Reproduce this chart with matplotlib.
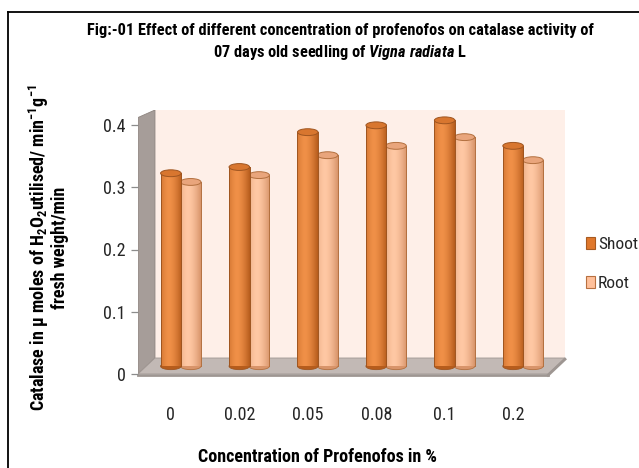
import numpy as np
import matplotlib
matplotlib.use("Agg")
import matplotlib.pyplot as plt
from matplotlib import font_manager
from matplotlib.patches import Polygon, Rectangle, Ellipse
from matplotlib.colors import to_rgb

# ---- data ----
categories = ["0", "0.02", "0.05", "0.08", "0.1", "0.2"]
shoot = [0.31, 0.32, 0.376, 0.387, 0.395, 0.354]
root = [0.296, 0.307, 0.339, 0.354, 0.368, 0.331]
series_names = ["Shoot", "Root"]
yticks = [0, 0.1, 0.2, 0.3, 0.4]
ytick_labels = ["0", "0.1", "0.2", "0.3", "0.4"]
title_line1 = "Fig:-01 Effect of different concentration of profenofos on catalase activity of"
title_line2 = r"07 days old seedling of $\mathit{Vigna\ radiata}$ L"
ylabel = r"Catalase in µ moles of H$_2$O$_2$utilised/ min$^{-1}$g$^{-1}$" + "\nfresh weight/min"
xlabel = "Concentration of Profenofos in %"

# ---- fonts ----
avail = {f.name for f in font_manager.fontManager.ttflist}
fam = "DejaVu Sans"
for cand in ["Liberation Sans Narrow", "Roboto Condensed", "Lato", "Open Sans"]:
    if cand in avail:
        fam = cand
        break
plt.rcParams["font.family"] = [fam, "DejaVu Sans"]
plt.rcParams["mathtext.fontset"] = "custom"
plt.rcParams["mathtext.rm"] = f"{fam}:bold"
plt.rcParams["mathtext.it"] = f"{fam}:italic:bold"
plt.rcParams["mathtext.bf"] = f"{fam}:bold"

W, H = 639, 468
fig = plt.figure(figsize=(W / 100, H / 100), dpi=100)

# outer border (top and left)
fig.add_artist(plt.Line2D([8 / W, 1], [1 - 12 / H, 1 - 12 / H], color="black", lw=1.3))
fig.add_artist(plt.Line2D([8 / W, 8 / W], [0, 1 - 12 / H], color="black", lw=1.3))

# axes geometry (pixels)
px_left, px_right, px_bottom, px_top = 138, 565, 374, 110
ax = fig.add_axes([px_left / W, (H - px_bottom) / H, (px_right - px_left) / W, (px_bottom - px_top) / H])
xpu = 68.45
ypu = 622.5
x0 = -0.48
x1 = x0 + (px_right - px_left) / xpu
ytop = (px_bottom - px_top) / ypu
ax.set_xlim(x0, x1)
ax.set_ylim(0, ytop)
for s in ax.spines.values():
    s.set_visible(False)

dx = 0.248
dy = 0.0257
xfr = 5.51

# back wall
ax.add_patch(Polygon([(x0 + dx, dy), (x1, dy), (x1, ytop), (x0 + dx, ytop)],
                     closed=True, facecolor="#FEEFE8", edgecolor="none", zorder=0))
# left wall
ax.add_patch(Polygon([(x0, 0), (x0, 0.412), (x0 + dx, ytop), (x0 + dx, dy)],
                     closed=True, facecolor="#A69D99", edgecolor="#8E8580", lw=0.6, zorder=1))
# floor
ax.add_patch(Polygon([(x0, 0), (xfr, 0), (x1, dy), (x0 + dx, dy)],
                     closed=True, facecolor="#C2B9B5", edgecolor="#A09793", lw=0.6, zorder=1))
ax.plot([x0, xfr], [-0.002, -0.002], color="#9E9692", lw=2.0, zorder=1, clip_on=False)
ax.plot([xfr, x1], [-0.002, dy - 0.002], color="#9E9692", lw=2.0, zorder=1, clip_on=False)

def cyl(xc, val, edge_c, mid_c, cap_c, line_c, z):
    w = 0.30
    base = 0.0125
    top = val + 0.0125
    eh = 0.011
    xa, xb = xc - w / 2, xc + w / 2
    n = 64
    t = np.linspace(0, 1, n)
    prof = np.clip(1 - np.abs((t - 0.38) / 0.62) ** 1.6, 0, 1)
    e = np.array(to_rgb(edge_c))
    m = np.array(to_rgb(mid_c))
    img = e[None, :] * (1 - prof[:, None]) + m[None, :] * prof[:, None]
    img = img[None, :, :]
    rect = Rectangle((xa, base), w, top - base, transform=ax.transData, facecolor="none", edgecolor="none")
    ax.add_patch(rect)
    im = ax.imshow(img, extent=[xa, xb, base, top], aspect="auto", zorder=z, interpolation="bilinear")
    im.set_clip_path(rect)
    ax.add_patch(Ellipse((xc, base), w, eh, facecolor=edge_c, edgecolor=line_c, lw=0.6, zorder=z - 0.1))
    ax.plot([xa, xa], [base, top], color=line_c, lw=0.7, zorder=z + 0.05)
    ax.plot([xb, xb], [base, top], color=line_c, lw=0.7, zorder=z + 0.05)
    ax.add_patch(Ellipse((xc, top), w, eh, facecolor=cap_c, edgecolor=line_c, lw=0.7, zorder=z + 0.1))

for i in range(len(categories)):
    cyl(i + 0.29, root[i], "#D8946A", "#FFC8A4", "#E9A57C", "#B3703F", 3 + i * 0.01)
    cyl(i, shoot[i], "#B65C1C", "#F09048", "#D8762F", "#9F5520", 4 + i * 0.01)

ax.set_xlim(x0, x1)
ax.set_ylim(0, ytop)

ax.set_yticks(yticks)
ax.set_yticklabels(ytick_labels, fontsize=13, color="#262626")
ax.tick_params(axis="y", length=5, width=0.9, color="#8C8C8C", pad=4)
ax.set_xticks(range(len(categories)))
ax.set_xticklabels(categories, fontsize=13, color="#262626")
ax.tick_params(axis="x", length=0, pad=23)

# titles & labels
fig.text(340 / W, 1 - 30 / H, title_line1, ha="center", va="center", fontsize=11.8, fontweight="bold")
fig.text(340 / W, 1 - 53 / H, title_line2, ha="center", va="center", fontsize=11.8, fontweight="bold")
fig.text(48 / W, 1 - 248 / H, ylabel, ha="center", va="center", rotation=90, fontsize=13,
         fontweight="bold", linespacing=1.05, multialignment="center")
fig.text(317 / W, 2 / H, xlabel, ha="center", va="bottom", fontsize=13, fontweight="bold")

# legend
lc = [("#E0782C", "#A85A20"), ("#FFC09A", "#B87040")]
for k, (name, (fc, ec)) in enumerate(zip(series_names, lc)):
    yc = 243 + k * 39
    fig.add_artist(Rectangle((586 / W, 1 - (yc + 6) / H), 9 / W, 12 / H, facecolor=fc, edgecolor=ec, lw=0.8,
                             transform=fig.transFigure))
    fig.text(598 / W, 1 - yc / H, name, ha="left", va="center_baseline", fontsize=12.5, color="#262626")

fig.savefig("out.png", dpi=100)
